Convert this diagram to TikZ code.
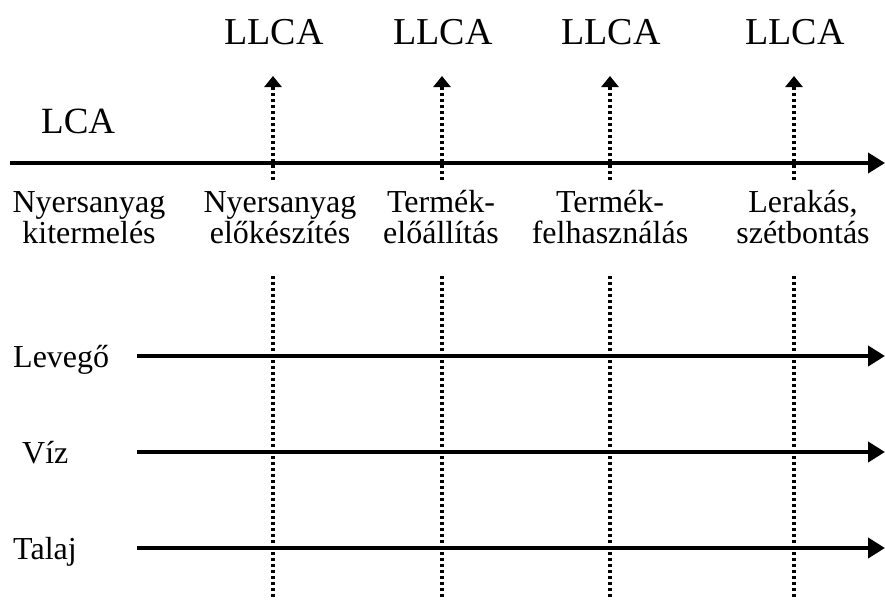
\documentclass[tikz,border=0pt]{standalone}
\usepackage{fontspec}
\setmainfont{Liberation Serif}
\usetikzlibrary{arrows.meta}

\begin{document}
\begin{tikzpicture}[x=1pt,y=-1pt,
  eixo/.style={line width=4pt,-{Triangle[width=20pt,length=17pt]}},
  pontilhado/.style={line width=3.5pt,dash pattern=on 3pt off 3pt},
  seta/.style={pontilhado,-{Triangle[width=17pt,length=11pt]}},
  rotulo/.style={inner sep=0pt,anchor=base,font=\fontsize{32}{31}\selectfont,align=center}]
\useasboundingbox (0,0) rectangle (885,602);

% Eixo principal LCA
\node[inner sep=0pt,anchor=base west,font=\fontsize{37}{40}\selectfont] (lca) at (41,133) {LCA};
\coordinate (ini) at (10,163);
\coordinate (fim) at (885,163);
\draw[eixo] (ini) -- (fim);

% Fases do ciclo de vida (ancora na ultima linha)
\node[rotulo] (fase1) at (89,243) {Nyersanyag\\kitermelés};
\node[rotulo] (fase2) at (280,243) {Nyersanyag\\előkészítés};
\node[rotulo] (fase3) at (441,243) {Termék-\\előállítás};
\node[rotulo] (fase4) at (610,243) {Termék-\\felhasználás};
\node[rotulo] (fase5) at (803,243) {Lerakás,\\szétbontás};

% LLCA com setas pontilhadas
\foreach \i/\x in {1/273,2/442,3/610,4/794} {
  \node[inner sep=0pt,anchor=base,font=\fontsize{38}{40}\selectfont] (llca\i) at (\x+1,45) {LLCA};
  \coordinate (topo\i) at (\x,76);
  \coordinate (base\i) at (\x,180);
  \coordinate (sup\i) at (\x,276);
  \coordinate (inf\i) at (\x,598);
  \draw[seta] (base\i) -- (topo\i);
  \draw[pontilhado] (sup\i) -- (inf\i);
}

% Meios: ar, agua, solo
\foreach \nome/\txt/\xt/\y in {levego/Levegő/13/356,viz/Víz/22/452,talaj/Talaj/13/548} {
  \node[inner sep=0pt,anchor=base west,font=\fontsize{32}{34}\selectfont] (\nome) at (\xt,\y+11) {\txt};
  \coordinate (\nome-ini) at (137,\y);
  \coordinate (\nome-fim) at (885,\y);
  \draw[eixo] (\nome-ini) -- (\nome-fim);
}
\end{tikzpicture}
\end{document}
